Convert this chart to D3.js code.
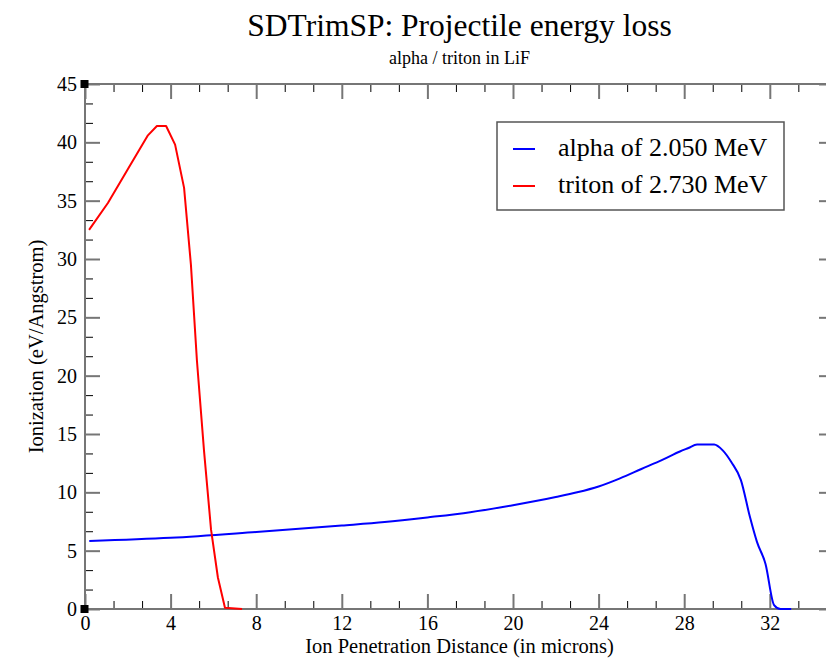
<!DOCTYPE html>
<html>
<head>
<meta charset="utf-8">
<script src="https://cdn.jsdelivr.net/npm/d3@7/dist/d3.min.js"></script>
<style>
	body { margin: 0; background: #fff; }
	text { font-family: "Liberation Serif", "DejaVu Serif", serif; fill: #000; }
</style>
</head>
<body>
<svg id="chart" width="826" height="660"></svg>
<script>
// data
var alphaX = [0.2, 4, 8, 12, 14, 16, 18, 20, 22, 23, 24, 25, 26, 27, 27.8, 28.2, 28.6, 29.4, 29.8, 30.2, 30.65, 31.07, 31.4, 31.8, 32.2, 32.5, 33.0];
var alphaY = [5.83, 6.1, 6.6, 7.15, 7.45, 7.85, 8.3, 8.9, 9.6, 10.0, 10.5, 11.2, 12.0, 12.8, 13.5, 13.8, 14.1, 14.1, 13.6, 12.6, 11.05, 7.9, 5.75, 3.86, 0.34, 0, 0];

var tritonX = [0.19, 1.07, 2.0, 2.94, 3.36, 3.79, 4.21, 4.63, 4.95, 5.23, 5.56, 5.89, 6.21, 6.54, 7.34];
var tritonY = [32.5, 34.8, 37.7, 40.6, 41.4, 41.4, 39.8, 36.1, 29.5, 21.3, 13.6, 6.8, 2.7, 0.1, 0];

var xTicks = [0, 4, 8, 12, 16, 20, 24, 28, 32];
var yTicks = [0, 5, 10, 15, 20, 25, 30, 35, 40, 45];
var legendLabels = ["alpha of 2.050 MeV", "triton of 2.730 MeV"];
var seriesColors = ["#0000ff", "#ff0000"];

var svg = d3.select("#chart");

var x = d3.scaleLinear().domain([0, 35]).range([85, 834]);
var y = d3.scaleLinear().domain([0, 45]).range([609, 84]);

// minor ticks: two between each major
function minors(step, max) {
	var m = [];
	for (var v = 0; v < max; v += step) {
		m.push(v + step / 3, v + 2 * step / 3);
	}
	return m.filter(function (d) { return d < max; });
}
var xMinor = minors(4, 35);
var yMinor = minors(5, 45);

var frameColor = "#767676";

function styleAxis(g, major) {
	g.select(".domain").remove();
	g.selectAll(".tick line")
		.attr("stroke", major ? frameColor : "#000")
		.attr("stroke-width", major ? 2 : 1);
	g.selectAll("text").style("font-size", "20px").style("font-family", "Liberation Serif");
}

// bottom
svg.append("g").attr("transform", "translate(0," + y(0) + ")")
	.call(d3.axisBottom(x).tickValues(xTicks).tickSize(-15).tickPadding(7).tickFormat(d3.format("d")))
	.call(styleAxis, true);
svg.append("g").attr("transform", "translate(0," + y(0) + ")")
	.call(d3.axisBottom(x).tickValues(xMinor).tickSize(-8).tickFormat(""))
	.call(styleAxis, false);
// top
svg.append("g").attr("transform", "translate(0," + y(45) + ")")
	.call(d3.axisTop(x).tickValues(xTicks).tickSize(-15).tickFormat(""))
	.call(styleAxis, true);
svg.append("g").attr("transform", "translate(0," + y(45) + ")")
	.call(d3.axisTop(x).tickValues(xMinor).tickSize(-8).tickFormat(""))
	.call(styleAxis, false);
// left
svg.append("g").attr("transform", "translate(" + x(0) + ",0)")
	.call(d3.axisLeft(y).tickValues(yTicks).tickSize(-15).tickPadding(8).tickFormat(d3.format("d")))
	.call(styleAxis, true);
svg.append("g").attr("transform", "translate(" + x(0) + ",0)")
	.call(d3.axisLeft(y).tickValues(yMinor).tickSize(-8).tickFormat(""))
	.call(styleAxis, false);
// right
svg.append("g").attr("transform", "translate(" + x(35) + ",0)")
	.call(d3.axisRight(y).tickValues(yTicks).tickSize(-15).tickFormat(""))
	.call(styleAxis, true);
svg.append("g").attr("transform", "translate(" + x(35) + ",0)")
	.call(d3.axisRight(y).tickValues(yMinor).tickSize(-8).tickFormat(""))
	.call(styleAxis, false);

// frame
svg.append("rect")
	.attr("x", x(0)).attr("y", y(45))
	.attr("width", x(35) - x(0)).attr("height", y(0) - y(45))
	.attr("fill", "none").attr("stroke", frameColor).attr("stroke-width", 2);

// lines
var lineSmooth = d3.line()
	.curve(d3.curveMonotoneX)
	.x(function (d) { return x(d[0]); })
	.y(function (d) { return y(d[1]); });
var lineStraight = d3.line()
	.x(function (d) { return x(d[0]); })
	.y(function (d) { return y(d[1]); });

var series = [d3.zip(alphaX, alphaY), d3.zip(tritonX, tritonY)];
series.forEach(function (s, i) {
	svg.append("path").datum(s)
		.attr("d", i == 0 ? lineSmooth : lineStraight)
		.attr("fill", "none")
		.attr("stroke", seriesColors[i])
		.attr("stroke-width", 2)
		.attr("stroke-linejoin", "round");
});

// corner markers
[[0, 45], [0, 0]].forEach(function (p) {
	svg.append("rect")
		.attr("x", x(p[0]) - 4.5).attr("y", y(p[1]) - 4)
		.attr("width", 8).attr("height", 8)
		.attr("fill", "#000");
});

// titles
var cx = (x(0) + x(35)) / 2;
svg.append("text").attr("x", cx).attr("y", 36)
	.attr("text-anchor", "middle").style("font-size", "31.5px")
	.text("SDTrimSP: Projectile energy loss");
svg.append("text").attr("x", cx).attr("y", 64)
	.attr("text-anchor", "middle").style("font-size", "18px")
	.text("alpha / triton in LiF");

svg.append("text").attr("x", cx).attr("y", 653)
	.attr("text-anchor", "middle").style("font-size", "20.5px")
	.text("Ion Penetration Distance (in microns)");
svg.append("text")
	.attr("transform", "translate(43," + ((y(0) + y(45)) / 2) + ") rotate(-90)")
	.attr("text-anchor", "middle").style("font-size", "20.5px")
	.text("Ionization (eV/Angstrom)");

// legend
var legend = svg.append("g");
legend.append("rect")
	.attr("x", 497).attr("y", 122).attr("width", 287).attr("height", 88)
	.attr("fill", "#fff").attr("stroke", "#555").attr("stroke-width", 1.5);
legendLabels.forEach(function (l, i) {
	var ly = 149 + i * 37;
	legend.append("line")
		.attr("x1", 513).attr("x2", 535).attr("y1", ly).attr("y2", ly)
		.attr("stroke", seriesColors[i]).attr("stroke-width", 2);
	legend.append("text")
		.attr("x", 558).attr("y", ly + 7)
		.style("font-size", "26px")
		.text(l);
});
</script>
</body>
</html>
